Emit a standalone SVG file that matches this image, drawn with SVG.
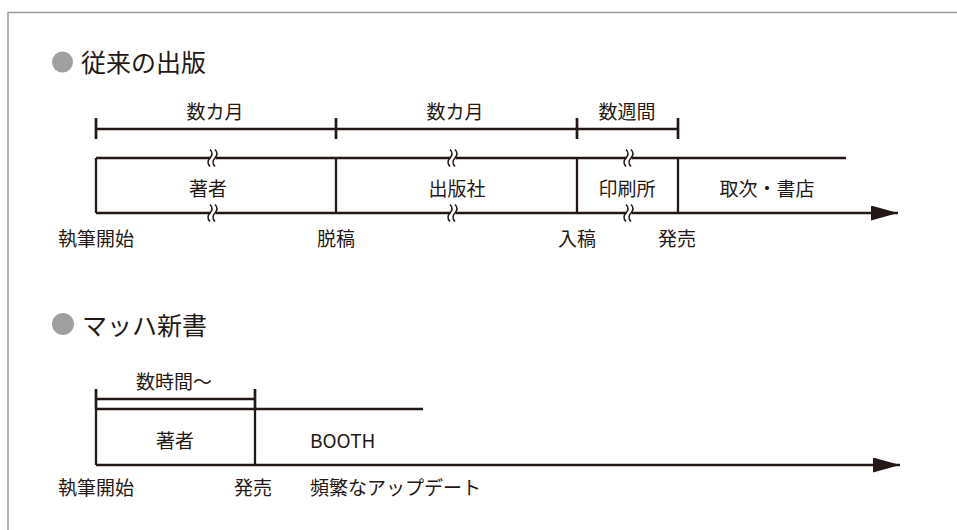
<svg xmlns="http://www.w3.org/2000/svg" width="957" height="530" viewBox="0 0 957 530">
<style>
text{font-family:"Noto Sans CJK JP","Noto Sans",sans-serif;fill:#231815;font-size:19px}
.t{font-size:25px}
.m{text-anchor:middle}
.ln{stroke:#231815;stroke-width:2.3;fill:none}
.tk{stroke:#231815;stroke-width:2.7;fill:none}
.dot{fill:#a0a0a0}
.brk{stroke:#231815;stroke-width:1.5;fill:none}
</style>
<defs>
<marker id="arr" markerWidth="27" markerHeight="15" refX="27" refY="7.5" orient="auto" markerUnits="userSpaceOnUse" viewBox="0 0 27 15">
<path d="M0,0 L27,7.5 L0,15 Z" fill="#231815"/>
</marker>
<g id="brk">
<rect x="-2.5" y="-3" width="5" height="6" fill="#fff"/>
<path class="brk" d="M-3,-8.5 q4,4.25 0,8.5 q-4,4.25 0,8.5"/>
<path class="brk" d="M2,-8.5 q4,4.25 0,8.5 q-4,4.25 0,8.5"/>
</g>
</defs>
<rect width="957" height="530" fill="#fff"/>
<path d="M8,530 V12.5 H957" stroke="#9a9a9a" stroke-width="1.5" fill="none"/>

<g id="title1">
<circle class="dot" cx="62.5" cy="62" r="10.5"/>
<text class="t" x="81" y="72">従来の出版</text>
</g>

<g id="connectors">
<line class="ln" x1="96" y1="129" x2="678" y2="129"/>
<line class="tk" x1="96" y1="118" x2="96" y2="139"/>
<line class="tk" x1="336" y1="118" x2="336" y2="139"/>
<line class="tk" x1="577" y1="118" x2="577" y2="139"/>
<line class="tk" x1="678" y1="118" x2="678" y2="139"/>
<line class="ln" x1="96" y1="158" x2="846" y2="158"/>
<line class="ln" x1="96" y1="213" x2="898" y2="213" marker-end="url(#arr)"/>
<line class="ln" x1="96" y1="158" x2="96" y2="213"/>
<line class="ln" x1="336" y1="158" x2="336" y2="213"/>
<line class="ln" x1="577" y1="158" x2="577" y2="213"/>
<line class="ln" x1="678" y1="158" x2="678" y2="213"/>
<use href="#brk" x="213" y="158"/>
<use href="#brk" x="213" y="213"/>
<use href="#brk" x="453" y="158"/>
<use href="#brk" x="453" y="213"/>
<use href="#brk" x="629" y="158"/>
<use href="#brk" x="629" y="213"/>
<line class="ln" x1="96" y1="399" x2="255" y2="399"/>
<line class="tk" x1="96" y1="389" x2="96" y2="409"/>
<line class="tk" x1="255" y1="389" x2="255" y2="409"/>
<line class="ln" x1="96" y1="409" x2="423" y2="409"/>
<line class="ln" x1="96" y1="409" x2="96" y2="465"/>
<line class="ln" x1="255" y1="409" x2="255" y2="465"/>
<line class="ln" x1="96" y1="465" x2="900" y2="465" marker-end="url(#arr)"/>
</g>

<g id="span-author"><text class="m" x="215" y="119">数カ月</text></g>
<g id="span-publisher"><text class="m" x="455" y="119">数カ月</text></g>
<g id="span-printer"><text class="m" x="627" y="119">数週間</text></g>

<g id="node-author"><text class="m" x="208" y="196">著者</text></g>
<g id="node-publisher"><text class="m" x="457" y="196">出版社</text></g>
<g id="node-printer"><text class="m" x="627" y="196">印刷所</text></g>
<g id="node-store"><text class="m" x="767" y="196">取次・書店</text></g>

<g id="ev-start1"><text class="m" x="96" y="246">執筆開始</text></g>
<g id="ev-draft"><text class="m" x="336" y="246">脱稿</text></g>
<g id="ev-submit"><text class="m" x="577" y="246">入稿</text></g>
<g id="ev-release1"><text class="m" x="677" y="246">発売</text></g>

<g id="title2">
<circle class="dot" cx="63" cy="324" r="11"/>
<text class="t" x="82" y="335">マッハ新書</text>
</g>

<g id="span-hours"><text class="m" x="174" y="389">数時間〜</text></g>
<g id="node-author2"><text class="m" x="175" y="448">著者</text></g>
<g id="node-booth"><text x="310" y="448">BOOTH</text></g>

<g id="ev-start2"><text class="m" x="96" y="495">執筆開始</text></g>
<g id="ev-release2"><text class="m" x="253" y="495">発売</text></g>
<g id="ev-update"><text x="310" y="495">頻繁なアップデート</text></g>
</svg>
